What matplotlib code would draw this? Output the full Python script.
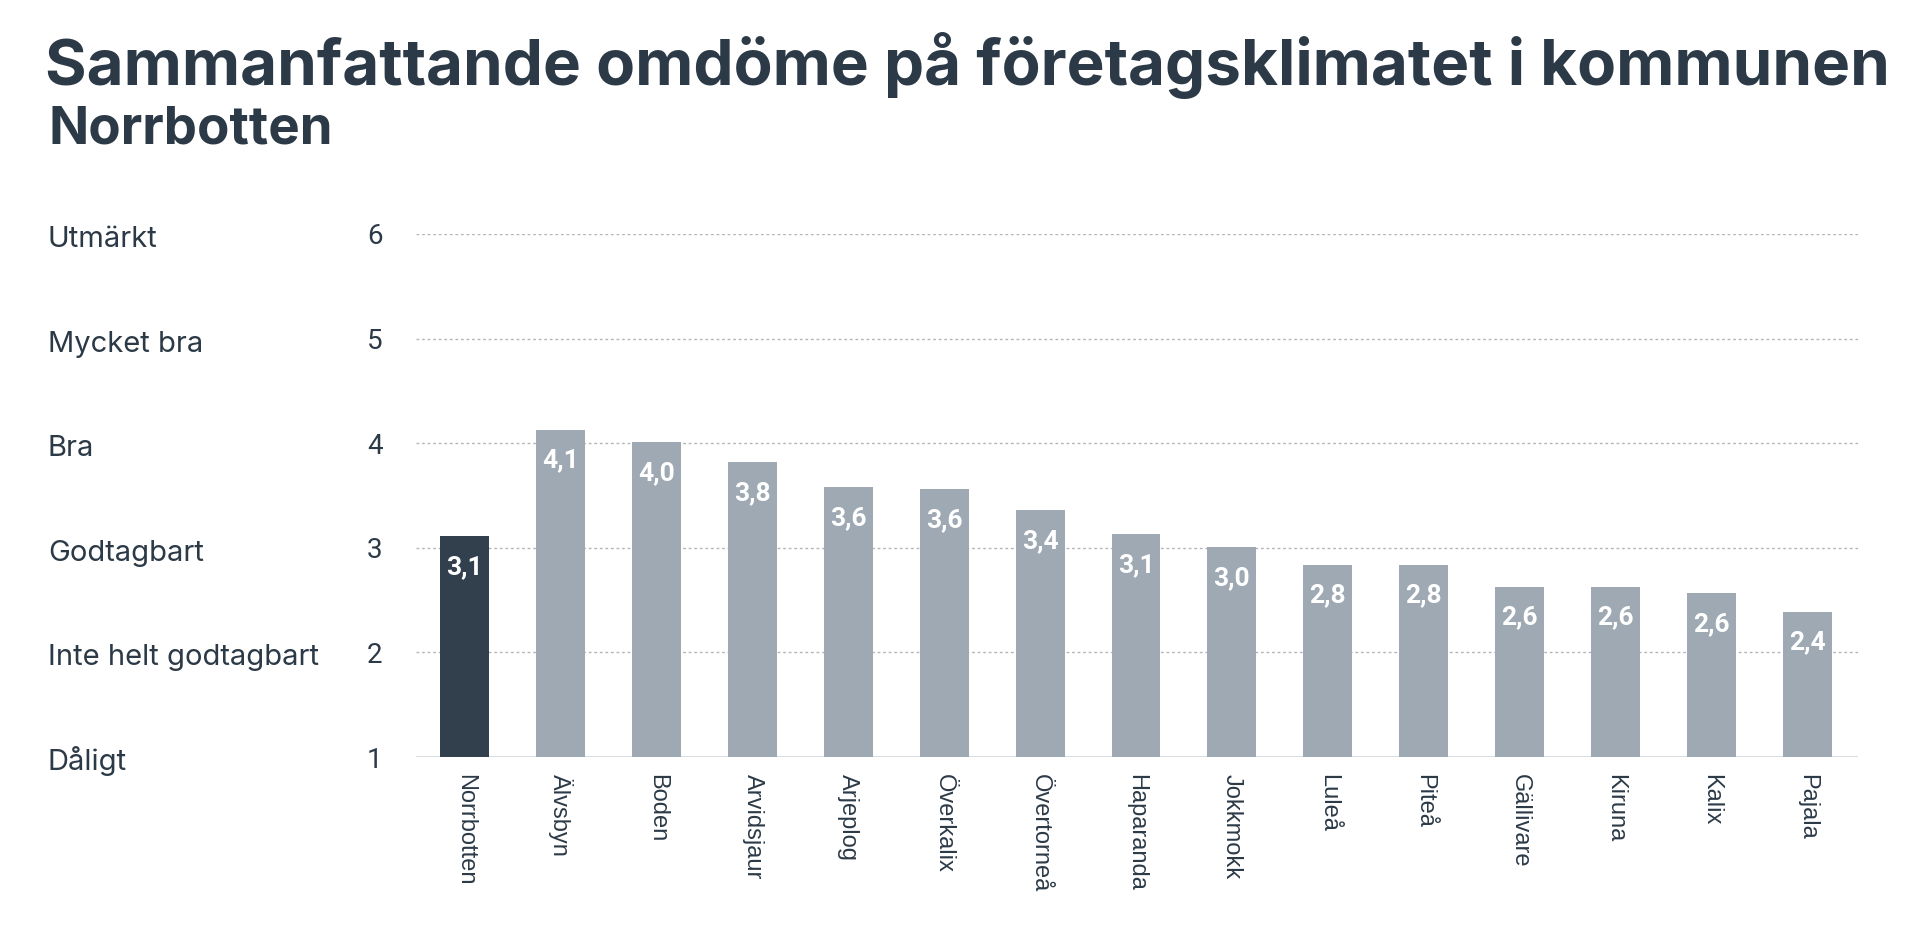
import matplotlib
matplotlib.use("Agg")
import matplotlib.pyplot as plt
from matplotlib.transforms import blended_transform_factory

# data
kommuner = ['Norrbotten', 'Älvsbyn', 'Boden', 'Arvidsjaur', 'Arjeplog', 'Överkalix',
            'Övertorneå', 'Haparanda', 'Jokkmokk', 'Luleå', 'Piteå', 'Gällivare',
            'Kiruna', 'Kalix', 'Pajala']
betyg = [3.11, 4.13, 4.01, 3.82, 3.58, 3.56, 3.36, 3.13, 3.01, 2.84, 2.84, 2.63, 2.63, 2.57, 2.39]
nivaer = [1, 2, 3, 4, 5, 6]
niva_namn = ['Dåligt', 'Inte helt godtagbart', 'Godtagbart', 'Bra', 'Mycket bra', 'Utmärkt']

TEXT = '#2c3a47'
DARK = '#323f4c'
LIGHT = '#9ea9b4'

plt.rcParams['font.family'] = ['Inter', 'DejaVu Sans']

fig = plt.figure(figsize=(19.2, 9.35), dpi=100)
ax = fig.add_axes([416 / 1920, 1 - 757 / 935, (1858 - 416) / 1920, (757 - 234) / 935])

x = list(range(len(kommuner)))
colors = [DARK] + [LIGHT] * (len(kommuner) - 1)
ax.bar(x, [b - 1 for b in betyg], bottom=1, width=0.51, color=colors, zorder=3)

for i, b in enumerate(betyg):
    ax.annotate(f"{b:.1f}".replace('.', ','), xy=(i, b), xytext=(0, -19),
                textcoords='offset pixels', ha='center', va='top',
                color='white', fontsize=19, fontweight='bold',
                family=['Roboto', 'DejaVu Sans'], zorder=4)

ax.set_xlim(-0.51, 14.53)
ax.set_ylim(1, 6)
for s in ax.spines.values():
    s.set_visible(False)
for lv in nivaer[1:]:
    ax.axhline(lv, color='#b5b5b5', lw=1, ls=(0, (2, 2)), zorder=1)
ax.axhline(1, color='#dcdfe2', lw=2.2, zorder=2)

ax.set_xticks(x)
ax.set_xticklabels(kommuner, rotation=270, fontsize=17, color=TEXT,
                   family=['Liberation Sans', 'DejaVu Sans'])
ax.tick_params(axis='x', length=0, pad=12)
ax.set_yticks(nivaer)
ax.set_yticklabels([str(n) for n in nivaer], fontsize=20, color=TEXT,
                   family=['Roboto', 'DejaVu Sans'])
ax.tick_params(axis='y', length=0, pad=24)

trans = blended_transform_factory(fig.transFigure, ax.transData)
for lv, namn in zip(nivaer, niva_namn):
    ax.annotate(namn, xy=(48 / 1920, lv), xycoords=trans, xytext=(0, -13),
                textcoords='offset pixels', ha='left', va='baseline',
                fontsize=21, color=TEXT, annotation_clip=False)

fig.text(45 / 1920, 1 - 85 / 935, 'Sammanfattande omdöme på företagsklimatet i kommunen',
         fontsize=45.9, fontweight='bold', color=TEXT, va='baseline', ha='left')
fig.text(48 / 1920, 1 - 144 / 935, 'Norrbotten',
         fontsize=38, fontweight='bold', color=TEXT, va='baseline', ha='left')

fig.savefig('out.png', dpi=100, facecolor='white')
